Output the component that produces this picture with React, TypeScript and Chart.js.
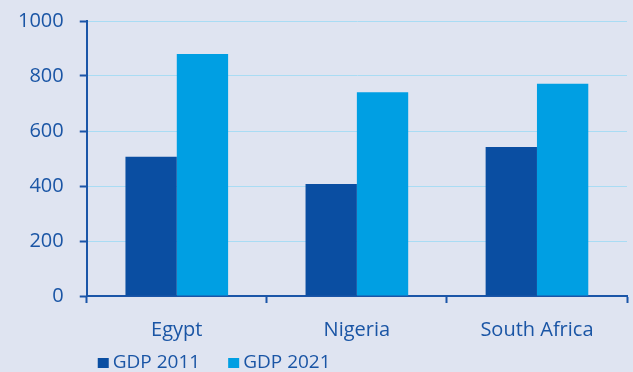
import React, { useEffect, useRef } from "react";
import { Chart, registerables } from "chart.js";

Chart.register(...registerables);

const categories = ["Egypt", "Nigeria", "South Africa"];
const gdp2011 = [506, 407, 542];
const gdp2021 = [880, 741, 772];
const seriesLabels = ["GDP 2011", "GDP 2021"];
const yTicks = [0, 200, 400, 600, 800, 1000];

const BG = "#dfe4f1";
const TEXT = "#1a55a5";
const AXIS = "#1a55a8";
const GRID = "#a9dcf4";
const DARK = "#0a4ea2";
const LIGHT = "#009fe3";
const FONT = "'Open Sans', sans-serif";

const legendPlugin = {
  id: "customLegend",
  afterDraw(chart: any) {
    const ctx = chart.ctx;
    ctx.save();
    ctx.font = `500 19px ${FONT}`;
    ctx.textBaseline = "alphabetic";
    let x = chart.chartArea.left + 11;
    const baseline = chart.height - 4;
    chart.data.datasets.forEach((ds: any) => {
      ctx.fillStyle = ds.backgroundColor;
      ctx.fillRect(x, baseline - 10, 11, 10);
      x += 15;
      ctx.fillStyle = TEXT;
      ctx.fillText(ds.label, x, baseline);
      x += ctx.measureText(ds.label).width + 28;
    });
    ctx.restore();
  },
};

export default function App() {
  const ref = useRef<HTMLCanvasElement | null>(null);

  useEffect(() => {
    document.body.style.margin = "0";
    document.body.style.overflow = "hidden";
    if (!ref.current) return;
    const chart = new Chart(ref.current, {
      type: "bar",
      data: {
        labels: categories,
        datasets: [
          { label: seriesLabels[0], data: gdp2011, backgroundColor: DARK, borderWidth: 0 },
          { label: seriesLabels[1], data: gdp2021, backgroundColor: LIGHT, borderWidth: 0 },
        ],
      },
      options: {
        animation: false,
        responsive: false,
        devicePixelRatio: 1,
        layout: { padding: { left: 2, right: 6, top: 21, bottom: 15 } },
        datasets: { bar: { categoryPercentage: 0.57, barPercentage: 1.0 } },
        plugins: { legend: { display: false }, tooltip: { enabled: false } },
        scales: {
          x: {
            ticks: { color: TEXT, font: { family: FONT, size: 20, weight: 500 }, padding: 15 },
            grid: {
              display: true,
              drawOnChartArea: false,
              drawTicks: true,
              tickLength: 7,
              tickColor: AXIS,
              tickWidth: 2,
              offset: true,
            },
            border: { color: AXIS, width: 2 },
          },
          y: {
            min: 0,
            max: 1000,
            afterBuildTicks: (axis: any) => {
              axis.ticks = yTicks.map((v) => ({ value: v }));
            },
            afterFit: (axis: any) => {
              axis.paddingTop = 0;
              axis.paddingBottom = 0;
            },
            ticks: {
              color: TEXT,
              font: { family: FONT, size: 20, weight: 500 },
              padding: 16,
              callback: (v: any) => String(v),
            },
            grid: { color: GRID, lineWidth: 1, tickColor: AXIS, tickLength: 7, tickWidth: 2 },
            border: { color: AXIS, width: 2 },
          },
        },
      },
      plugins: [legendPlugin],
    });
    return () => chart.destroy();
  }, []);

  return (
    <div style={{ width: 633, height: 372, background: BG }}>
      <canvas ref={ref} width={633} height={372} style={{ display: "block" }} />
    </div>
  );
}
